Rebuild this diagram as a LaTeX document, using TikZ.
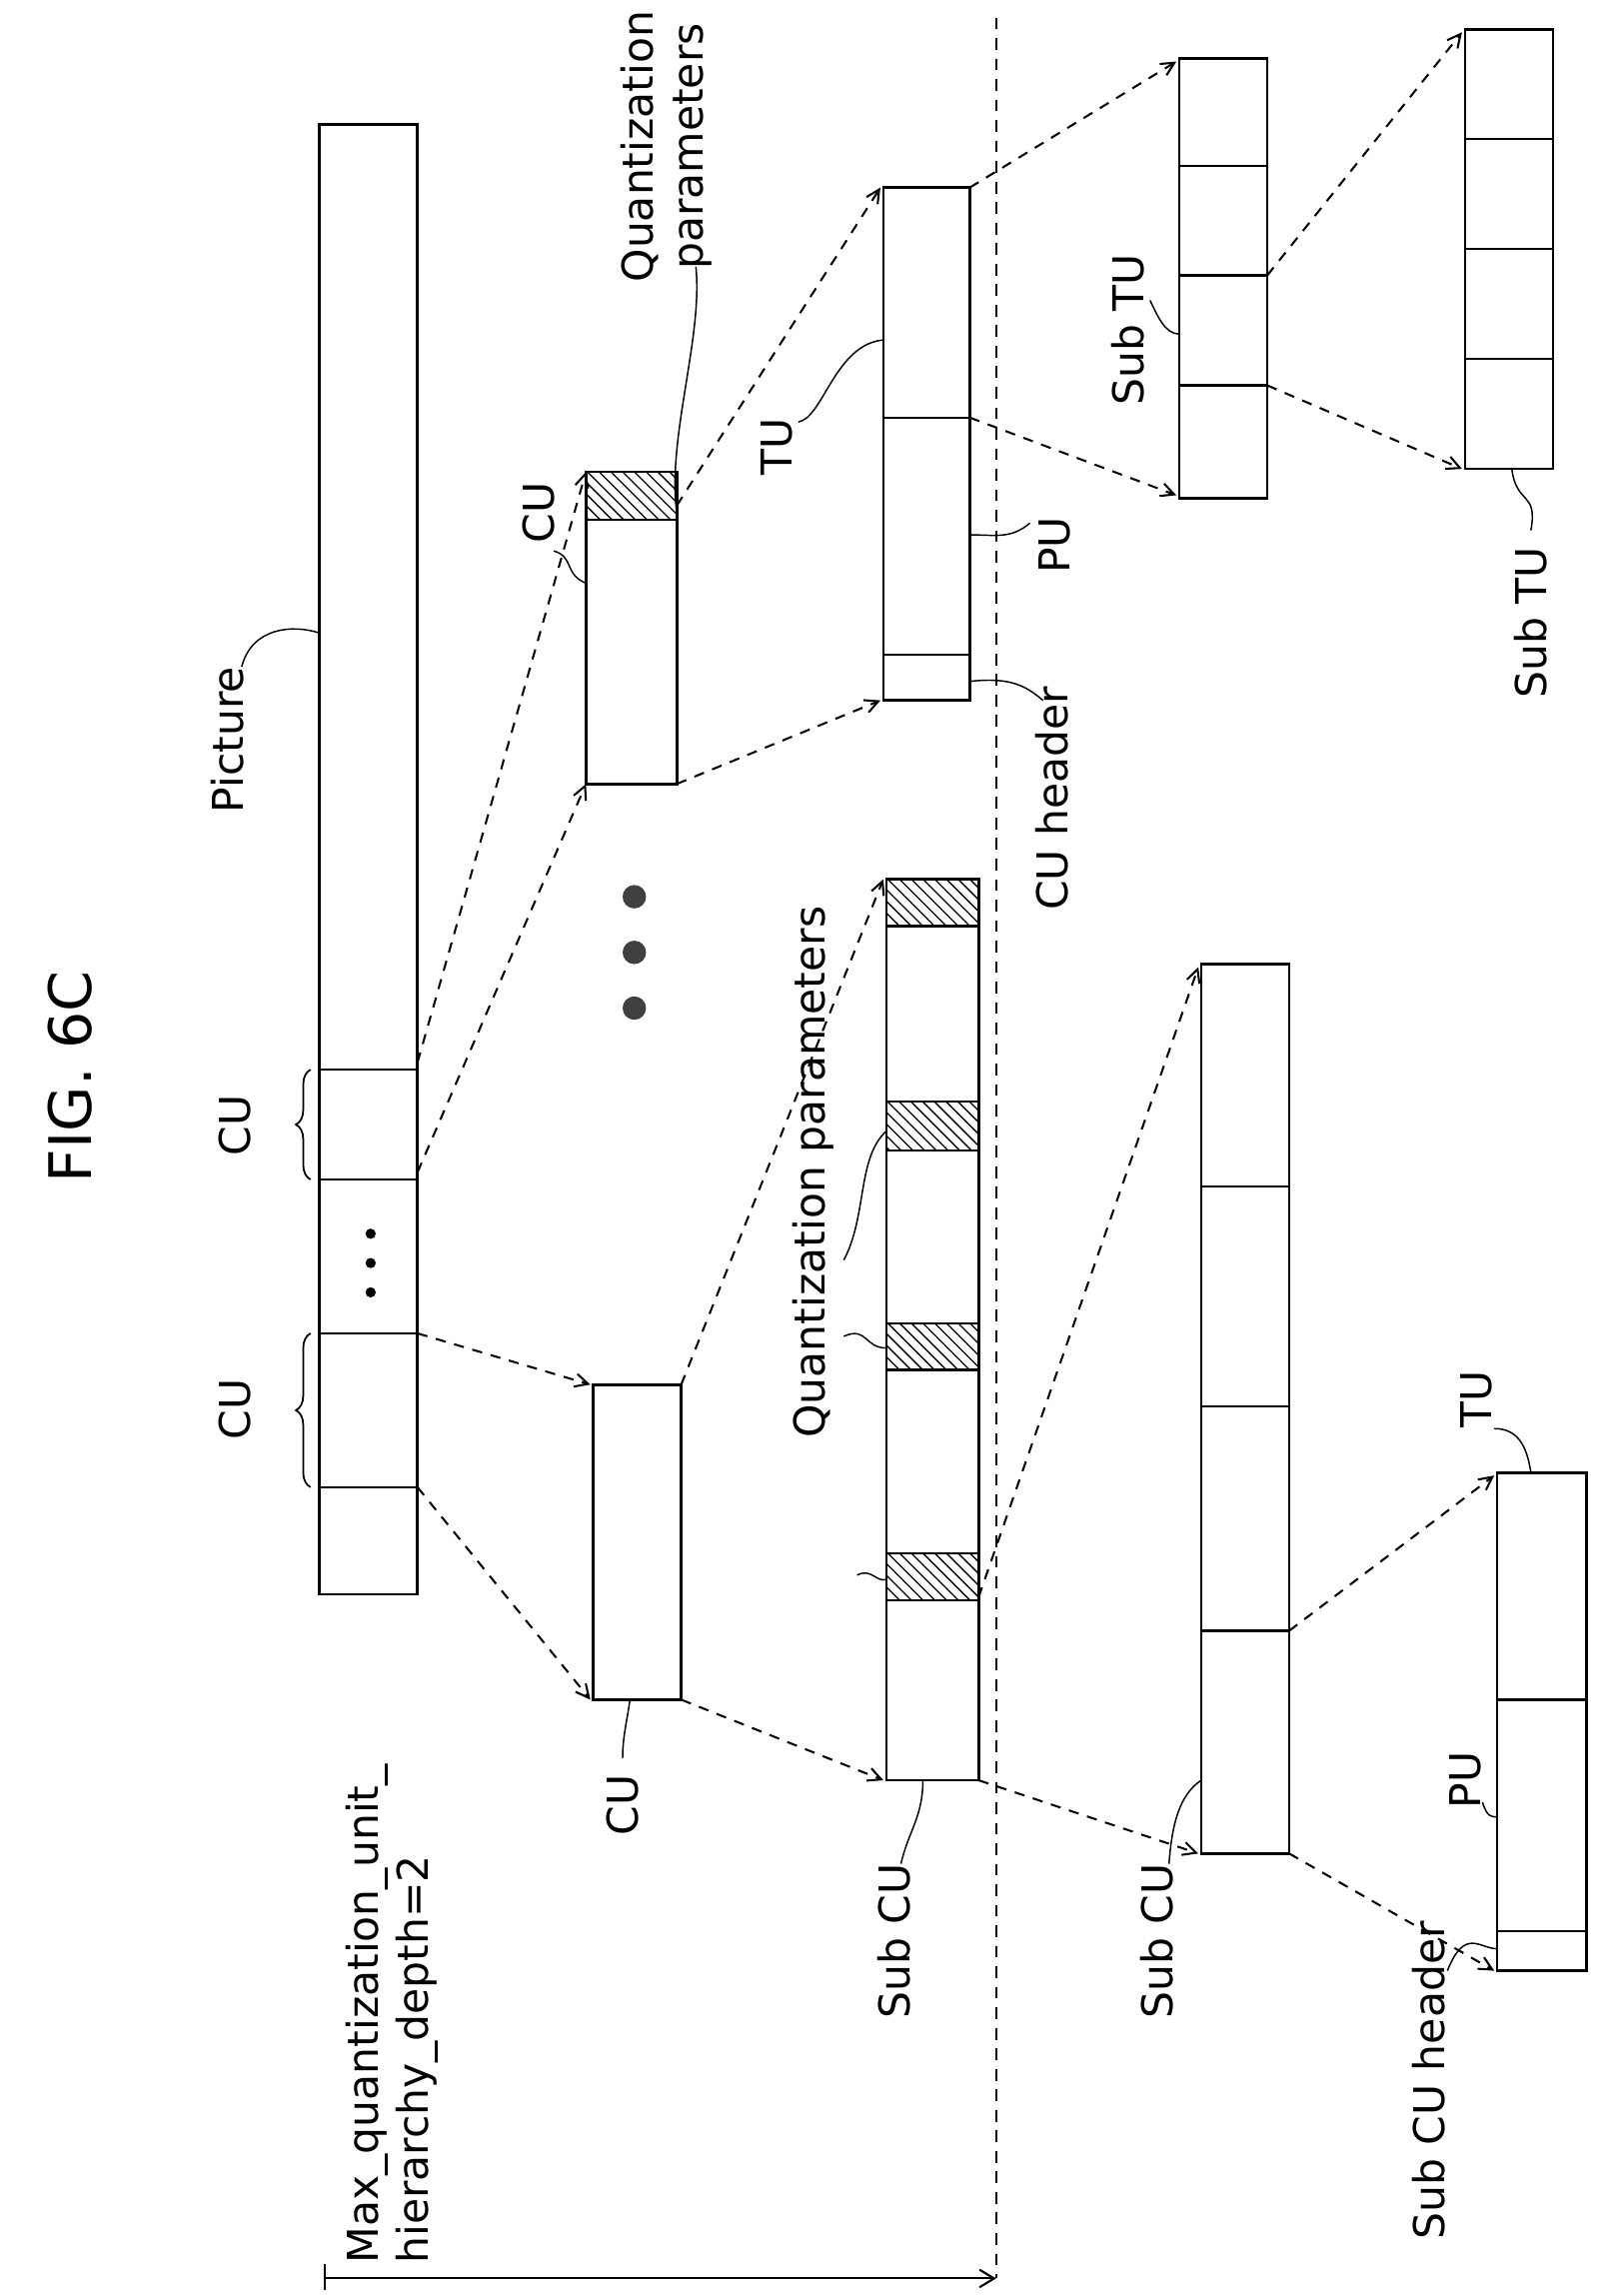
\documentclass[tikz,border=0pt]{standalone}
\usepackage{fontspec}
\setmainfont{DejaVu Sans}
\usetikzlibrary{decorations.pathreplacing,arrows.meta}
\begin{document}
\begin{tikzpicture}[x=1pt,y=-1pt,
  box/.style={line width=1.8pt},
  div/.style={line width=1.5pt},
  arr/.style={dashed,line width=1.4pt,dash pattern=on 7pt off 6pt,-{Straight Barb[length=9pt,width=9pt]}},
  lead/.style={line width=1pt},
  lab/.style={rotate=90,font=\fontsize{29}{34}\selectfont,inner sep=0pt},
  hat/.style={line width=0.9pt}]
\useasboundingbox (0,0) rectangle (1100,1567);
\newcommand{\myhatch}[4]{\begin{scope}\clip (#1,#2) rectangle (#3,#4);
  \foreach \k in {-100,-92,...,100}{\draw[hat] (#1+\k,#2-5) -- ++(80,80);}\end{scope}
  \draw[div] (#1,#2) rectangle (#3,#4);}
% Picture
\draw[box] (218,85) rectangle (285,1088);
\foreach \yy in {730,805,910,1015}{\draw[div] (218,\yy) -- (285,\yy);}
\foreach \yy in {842,862,882}{\fill (253,\yy) circle (3.5);}
\coordinate (p1) at (285,725); \coordinate (p2) at (285,800);
\coordinate (p3) at (285,910); \coordinate (p4) at (285,1015);
% CU upper
\myhatch{400}{322}{462}{355}
\draw[box] (400,322) rectangle (462,535);
\coordinate (c1a) at (400,322); \coordinate (c1b) at (400,535);
\coordinate (c1c) at (462,345); \coordinate (c1d) at (462,535);
% CU middle
\draw[box] (405,945) rectangle (465,1160);
\coordinate (c2a) at (403,945); \coordinate (c2b) at (403,1160);
\coordinate (c2c) at (465,945); \coordinate (c2d) at (465,1160);
% TU
\draw[box] (603,128) rectangle (662,478);
\foreach \yy in {285,447}{\draw[div] (603,\yy) -- (662,\yy);}
\coordinate (t1a) at (601,128); \coordinate (t1b) at (601,478);
\coordinate (t1c) at (662,128); \coordinate (t1d) at (662,285);
% Sub TU 1
\draw[box] (805,40) rectangle (865,340);
\foreach \yy in {113,188,263}{\draw[div] (805,\yy) -- (865,\yy);}
\coordinate (s1a) at (803,42); \coordinate (s1b) at (803,338);
\coordinate (s1c) at (865,188); \coordinate (s1d) at (865,263);
% Sub TU 2
\draw[box] (1000,20) rectangle (1060,320);
\foreach \yy in {95,170,245}{\draw[div] (1000,\yy) -- (1060,\yy);}
\coordinate (s2a) at (998,22); \coordinate (s2b) at (998,320);
% Sub CU wide
\myhatch{605}{600}{668}{632}
\myhatch{605}{752}{668}{785}
\myhatch{605}{903}{668}{935}
\myhatch{605}{1060}{668}{1092}
\draw[box] (605,600) rectangle (668,1215);
\coordinate (u1a) at (603,600); \coordinate (u1b) at (603,1215);
\coordinate (u1c) at (668,1090); \coordinate (u1d) at (668,1215);
% Sub CU 2
\draw[box] (820,658) rectangle (880,1265);
\foreach \yy in {810,960,1113}{\draw[div] (820,\yy) -- (880,\yy);}
\coordinate (u2a) at (818,660); \coordinate (u2b) at (818,1265);
\coordinate (u2c) at (880,1113); \coordinate (u2d) at (880,1265);
% TU 2
\draw[box] (1022,1005) rectangle (1083,1345);
\foreach \yy in {1160,1318}{\draw[div] (1022,\yy) -- (1083,\yy);}
\coordinate (t2a) at (1020,1007); \coordinate (t2b) at (1020,1345);
% big dots
\foreach \yy in {612,650,688}{\fill[black!75] (433,\yy) circle (8);}
% arrows
\draw[arr] (p1) -- (c1a); \draw[arr] (p2) -- (c1b);
\draw[arr] (p3) -- (c2a); \draw[arr] (p4) -- (c2b);
\draw[arr] (c1c) -- (t1a); \draw[arr] (c1d) -- (t1b);
\draw[arr] (c2c) -- (u1a); \draw[arr] (c2d) -- (u1b);
\draw[arr] (t1c) -- (s1a); \draw[arr] (t1d) -- (s1b);
\draw[arr] (s1c) -- (s2a); \draw[arr] (s1d) -- (s2b);
\draw[arr] (u1c) -- (u2a); \draw[arr] (u1d) -- (u2b);
\draw[arr] (u2c) -- (t2a); \draw[arr] (u2d) -- (t2b);
% dividing line and depth arrow
\coordinate (dtop) at (680,12); \coordinate (dbot) at (680,1555);
\draw[dashed,line width=1pt,dash pattern=on 8pt off 6pt] (dtop) -- (dbot);
\coordinate (m0) at (222,1555);
\draw[line width=1.4pt,-{Straight Barb[length=10pt,width=12pt]}] (m0) -- (dbot);
\draw[line width=1.4pt] (222,1545) -- (222,1563);
% braces
\draw[line width=1.2pt,decorate,decoration={brace,amplitude=10pt}] (212,805) -- (212,730);
\draw[line width=1.2pt,decorate,decoration={brace,amplitude=10pt}] (212,1015) -- (212,910);
% labels
\node[lab,font=\fontsize{40}{46}\selectfont] (fig) at (48,735) {FIG. 6C};
\node[lab] (lpic) at (155,505) {Picture};
\draw[lead] (165,455) .. controls (172,428) and (200,426) .. (218,432);
\node[lab] (lcu1) at (160,768) {CU};
\node[lab] (lcu2) at (160,962) {CU};
\node[lab] (lcu3) at (368,350) {CU};
\draw[lead] (378,376) .. controls (392,380) and (385,392) .. (400,398);
\node[lab,align=center] (lqp1) at (455,100) {Quantization\\parameters};
\draw[lead] (475,182) .. controls (480,230) and (455,300) .. (462,350);
\node[lab] (ltu) at (530,305) {TU};
\draw[lead] (545,288) .. controls (562,285) and (570,235) .. (603,232);
\node[lab] (lpu) at (720,372) {PU};
\draw[lead] (703,357) .. controls (690,368) and (680,365) .. (662,365);
\node[lab] (lcuh) at (718,545) {CU header};
\draw[lead] (712,478) .. controls (700,468) and (690,462) .. (662,465);
\node[lab] (lstu1) at (770,225) {Sub TU};
\draw[lead] (785,205) .. controls (790,215) and (795,228) .. (805,228);
\node[lab] (lstu2) at (1045,425) {Sub TU};
\draw[lead] (1045,362) .. controls (1050,335) and (1035,345) .. (1032,320);
\node[lab] (lqp2) at (555,800) {Quantization parameters};
\draw[lead] (576,860) .. controls (592,830) and (585,790) .. (605,772);
\draw[lead] (576,912) .. controls (592,905) and (590,920) .. (605,920);
\draw[lead] (585,1075) .. controls (595,1070) and (598,1080) .. (605,1078);
\node[lab] (lcu4) at (425,1232) {CU};
\draw[lead] (425,1200) .. controls (425,1185) and (428,1175) .. (430,1160);
\node[lab] (lsub1) at (610,1325) {Sub CU};
\draw[lead] (615,1272) .. controls (620,1250) and (630,1240) .. (630,1215);
\node[lab] (lsub2) at (790,1325) {Sub CU};
\draw[lead] (798,1272) .. controls (800,1245) and (805,1225) .. (820,1215);
\node[lab] (lpu2) at (1000,1215) {PU};
\draw[lead] (1012,1230) .. controls (1015,1240) and (1018,1240) .. (1022,1240);
\node[lab] (ltu2) at (1008,955) {TU};
\draw[lead] (1020,975) .. controls (1035,975) and (1042,985) .. (1045,1005);
\node[lab] (lsch) at (975,1420) {Sub CU header};
\draw[lead] (988,1325) ++(0,20) .. controls (1000,1315) and (1010,1330) .. (1022,1330);
\node[lab,anchor=north west,align=left] (lmax) at (236,1545) {Max\_quantization\_unit\_\\hierarchy\_depth=2};
\end{tikzpicture}
\end{document}
